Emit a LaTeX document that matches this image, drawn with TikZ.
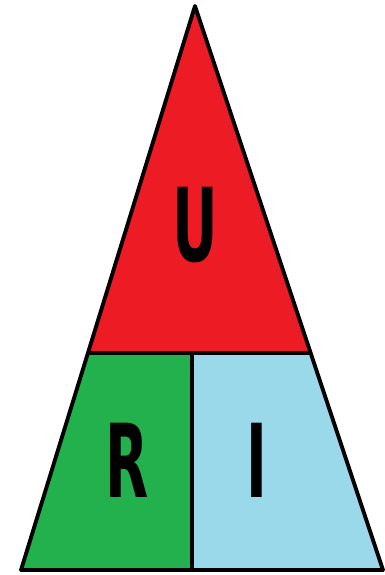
\documentclass[tikz,border=0pt]{standalone}
\usepackage{fontspec}
\setmainfont{DejaVu Sans}
\usepackage{tikz}
\definecolor{tri_red}{HTML}{ED1C24}
\definecolor{tri_green}{HTML}{22B14C}
\definecolor{tri_blue}{HTML}{99D9EA}
\tikzset{
  part/.style={draw=black,line width=2.2pt,line join=round},
  letter/.style={font=\bfseries\fontsize{58}{60}\selectfont,xscale=0.55,inner sep=0pt}
}
\begin{document}
\begin{tikzpicture}[x=0.2mm,y=-0.2mm]
\useasboundingbox (0,0) rectangle (385,575);
% corners of the triangle
\coordinate (apex) at (195,6);
\coordinate (bl) at (21,570);
\coordinate (br) at (383,570);
\coordinate (ml) at (88,353);
\coordinate (mr) at (311,353);
\coordinate (mm) at (192,353);
\coordinate (bm) at (192,570);
% the three parts
\fill[tri_red] (apex)--(mr)--(ml)--cycle;
\fill[tri_green] (ml)--(mm)--(bm)--(bl)--cycle;
\fill[tri_blue] (mm)--(mr)--(br)--(bm)--cycle;
\draw[part] (apex)--(br)--(bl)--cycle;
\draw[part] (ml)--(mr);
\draw[part] (mm)--(bm);
% labels
\node[letter] (u_lbl) at (195,225) {U};
\node[letter] (r_lbl) at (127,460) {R};
\node[letter] (i_lbl) at (257,460) {I};
\end{tikzpicture}
\end{document}
